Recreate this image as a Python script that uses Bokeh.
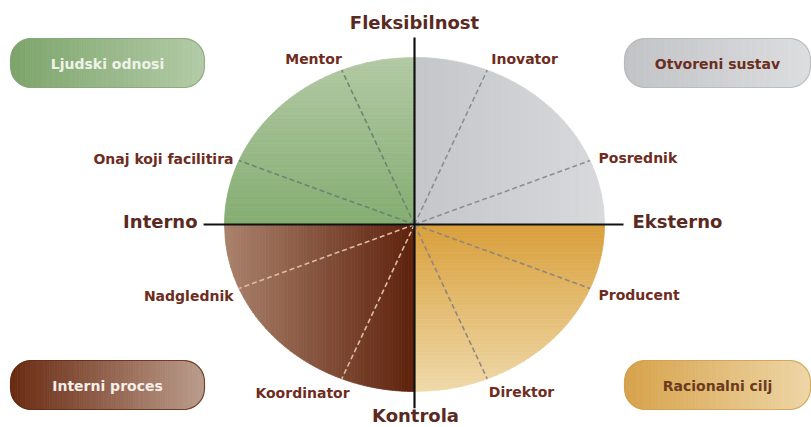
import numpy as np
from bokeh.plotting import figure
from bokeh.models import Range1d
from bokeh.embed import file_html
from bokeh.resources import INLINE
from bokeh.core.properties import value

# ---------------- data ----------------
quadrant_names = ["Ljudski odnosi", "Otvoreni sustav", "Racionalni cilj", "Interni proces"]
quadrant_sign_x = [-1, 1, 1, -1]
quadrant_sign_y = [1, 1, -1, -1]
role_names = ["Mentor", "Onaj koji facilitira", "Inovator", "Posrednik",
              "Producent", "Direktor", "Koordinator", "Nadglednik"]
role_quadrant = [0, 0, 1, 1, 2, 2, 3, 3]
role_angles = [112.5, 157.5, 67.5, 22.5, -22.5, -67.5, 247.5, 202.5]
axis_names = ["Fleksibilnost", "Kontrola", "Interno", "Eksterno"]

# ---------------- layout / style ----------------
W, H = 811, 427
CX, CY, RX, RY = 414, 224, 190, 167

quad_grad_axis = ["y", "x", "y", "x"]
quad_near = ["#84ad71", "#c4c6c9", "#d99f3a", "#5e210b"]
quad_far = ["#b2c9a4", "#d8d9db", "#efd9aa", "#aa826c"]
role_line_col = ["#6a8574", "#8c8e92", "#8e877a", "#dcbba6"]

role_label_pos = [(313, 58, "center"), (233, 158, "right"), (524, 58, "center"), (598, 157, "left"),
                  (598, 294, "left"), (521, 391, "center"), (302, 392, "center"), (233, 295, "right")]
axis_label_pos = [(414, 22, "center"), (415, 415, "center"), (197, 221, "right"), (632, 221, "left")]

box_rects = [(10, 204, 38, 87), (624, 810, 38, 87), (624, 810, 360, 409), (10, 204, 360, 409)]
box_left = ["#7ca46a", "#c2c3c6", "#d6a24a", "#692a11"]
box_right = ["#b3cba7", "#dcdddf", "#eed6a6", "#bb9c8c"]
box_edge = ["#86a27a", "#b4b5b8", "#cf9e4c", "#5e2811"]
box_text_col = ["#eef3e8", "#6b2e22", "#6b3a1e", "#f6eee9"]

LABEL_COL = "#6e2c1e"
AXIS_COL = "#5a2a22"


def hex2rgb(h):
    h = h.lstrip("#")
    return np.array([int(h[i:i + 2], 16) for i in (0, 2, 4)], dtype=float)


def blend(c1, c2, t):
    a, b = hex2rgb(c1), hex2rgb(c2)
    c = a + (b - a) * t
    return "#%02x%02x%02x" % tuple(int(round(v)) for v in c)


p = figure(width=W, height=H, x_range=Range1d(0, W), y_range=Range1d(H, 0),
           output_backend="svg", toolbar_location=None, min_border=0,
           x_axis_type=None, y_axis_type=None)
p.grid.visible = False
p.outline_line_color = None
p.background_fill_color = "white"
p.border_fill_color = "white"

# ---------------- quadrants (gradient strips) ----------------
xs, ys, cols = [], [], []
N = 60
for q in range(4):
    sx, sy = quadrant_sign_x[q], quadrant_sign_y[q]
    edges = np.linspace(0, 1, N + 1)
    for a, b in zip(edges[:-1], edges[1:]):
        us = np.linspace(a, b, 5)
        vs = np.sqrt(np.clip(1 - us ** 2, 0, None))
        u_poly = np.concatenate([[a, b], us[::-1]])
        v_poly = np.concatenate([[0, 0], vs[::-1]])
        if quad_grad_axis[q] == "x":
            ex, ey = sx * u_poly, sy * v_poly
        else:
            ex, ey = sx * v_poly, sy * u_poly
        xs.append(list(CX + RX * ex))
        ys.append(list(CY - RY * ey))
        cols.append(blend(quad_near[q], quad_far[q], (a + b) / 2))
p.patches(xs, ys, fill_color=cols, line_color=cols, line_width=0.8)

# ---------------- role divider lines ----------------
ang = np.radians(role_angles)
p.segment(x0=[CX] * len(ang), y0=[CY] * len(ang),
          x1=list(CX + RX * np.cos(ang)), y1=list(CY - RY * np.sin(ang)),
          line_color=[role_line_col[q] for q in role_quadrant],
          line_width=1.6, line_dash="5 3")

# ---------------- axes cross ----------------
p.segment(x0=[CX - RX * 1.11, CX], y0=[CY, CY - RY * 1.12],
          x1=[CX + RX * 1.10, CX], y1=[CY, CY + RY * 1.10],
          line_color="#111111", line_width=2.2)

# ---------------- rounded corner boxes ----------------
bxs, bys, bcols = [], [], []
for i, (x0, x1, y0, y1) in enumerate(box_rects):
    r = 21.0

    def top(x):
        d = max(0.0, x0 + r - x, x - (x1 - r))
        return y0 + r - np.sqrt(max(0.0, r * r - d * d))

    def bot(x):
        d = max(0.0, x0 + r - x, x - (x1 - r))
        return y1 - r + np.sqrt(max(0.0, r * r - d * d))

    edges = np.linspace(x0, x1, 80)
    for a, b in zip(edges[:-1], edges[1:]):
        ss = np.linspace(a, b, 3)
        px = list(ss) + list(ss[::-1])
        py = [top(s) for s in ss] + [bot(s) for s in ss[::-1]]
        bxs.append(px)
        bys.append(py)
        t = ((a + b) / 2 - x0) / (x1 - x0)
        bcols.append(blend(box_left[i], box_right[i], t))
p.patches(bxs, bys, fill_color=bcols, line_color=bcols, line_width=0.8)

for i, (x0, x1, y0, y1) in enumerate(box_rects):
    r = 21.0
    th = np.linspace(0, np.pi / 2, 12)
    ox = list(x1 - r + r * np.sin(th)) + list(x1 - r + r * np.cos(th)) + \
        list(x0 + r - r * np.sin(th)) + list(x0 + r - r * np.cos(th))
    oy = list(y0 + r - r * np.cos(th)) + list(y1 - r + r * np.sin(th)) + \
        list(y1 - r + r * np.cos(th)) + list(y0 + r - r * np.sin(th))
    p.patch(ox, oy, fill_color=None, line_color=box_edge[i], line_width=1.2, line_alpha=0.8)

p.text(x=[(b[0] + b[1]) / 2 for b in box_rects], y=[(b[2] + b[3]) / 2 + 1 for b in box_rects],
       text=quadrant_names, text_color=box_text_col, text_font=value("DejaVu Sans"),
       text_font_style="bold", text_font_size="14px", text_align="center", text_baseline="middle")

# ---------------- labels ----------------
for name, (lx, ly, al) in zip(role_names, role_label_pos):
    p.text(x=[lx], y=[ly], text=[name], text_color=LABEL_COL, text_font=value("DejaVu Sans"),
           text_font_style="bold", text_font_size="14px", text_align=al, text_baseline="middle")

for name, (lx, ly, al) in zip(axis_names, axis_label_pos):
    p.text(x=[lx], y=[ly], text=[name], text_color=AXIS_COL, text_font=value("DejaVu Sans"),
           text_font_style="bold", text_font_size="18px", text_align=al, text_baseline="middle")

open("out.html", "w").write(file_html(p, INLINE))
